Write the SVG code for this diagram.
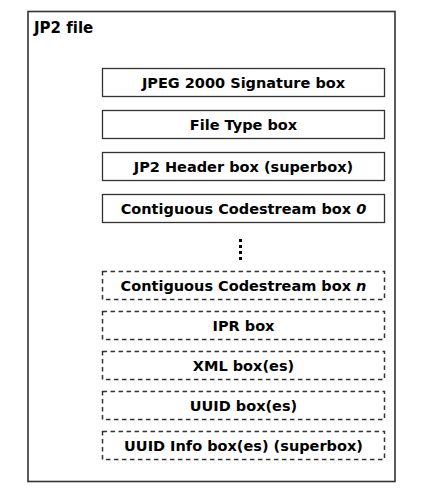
<svg xmlns="http://www.w3.org/2000/svg" width="431" height="500" viewBox="0 0 431 500">
<style>
text{font-family:"DejaVu Sans",Verdana,sans-serif;font-weight:bold;font-size:14.5px;fill:#000;font-variant-ligatures:none}
.t{text-anchor:middle}
.box{fill:#fff;stroke:#333;stroke-width:1.3}
.dash{fill:#fff;stroke:#333;stroke-width:1.5;stroke-dasharray:4.5,3.5}
</style>
<rect width="431" height="500" fill="#fff"/>
<g id="jp2file">
<rect x="28" y="11.5" width="367" height="470" fill="#fff" stroke="#333" stroke-width="1.6"/>
<text x="34" y="33" style="font-size:15px">JP2 file</text>
</g>
<g id="signature"><rect class="box" x="102.5" y="68.5" width="282" height="28"/><text class="t" x="243.5" y="88">JPEG 2000 Signature box</text></g>
<g id="filetype"><rect class="box" x="102.5" y="110.5" width="282" height="28"/><text class="t" x="243.5" y="130">File Type box</text></g>
<g id="header"><rect class="box" x="102.5" y="152.5" width="282" height="28"/><text class="t" x="243.5" y="172">JP2 Header box (superbox)</text></g>
<g id="codestream0"><rect class="box" x="102.5" y="194.5" width="282" height="28"/><text class="t" x="243.5" y="214">Contiguous Codestream box <tspan font-style="italic">0</tspan></text></g>
<g id="ellipsis" fill="#000">
<rect x="239" y="239" width="3" height="3"/>
<rect x="239" y="245" width="3" height="3"/>
<rect x="239" y="251" width="3" height="3"/>
<rect x="239" y="257" width="3" height="3"/>
</g>
<g id="codestreamn"><rect class="dash" x="102.5" y="271.5" width="282" height="28"/><text class="t" x="243.5" y="291">Contiguous Codestream box <tspan font-style="italic">n</tspan></text></g>
<g id="ipr"><rect class="dash" x="102.5" y="311.5" width="282" height="28"/><text class="t" x="243.5" y="331">IPR box</text></g>
<g id="xml"><rect class="dash" x="102.5" y="351.5" width="282" height="28"/><text class="t" x="243.5" y="371">XML box(es)</text></g>
<g id="uuid"><rect class="dash" x="102.5" y="391.5" width="282" height="28"/><text class="t" x="243.5" y="411">UUID box(es)</text></g>
<g id="uuidinfo"><rect class="dash" x="102.5" y="431.5" width="282" height="28"/><text class="t" x="243.5" y="451">UUID Info box(es) (superbox)</text></g>
<g id="connectors"></g>
</svg>
